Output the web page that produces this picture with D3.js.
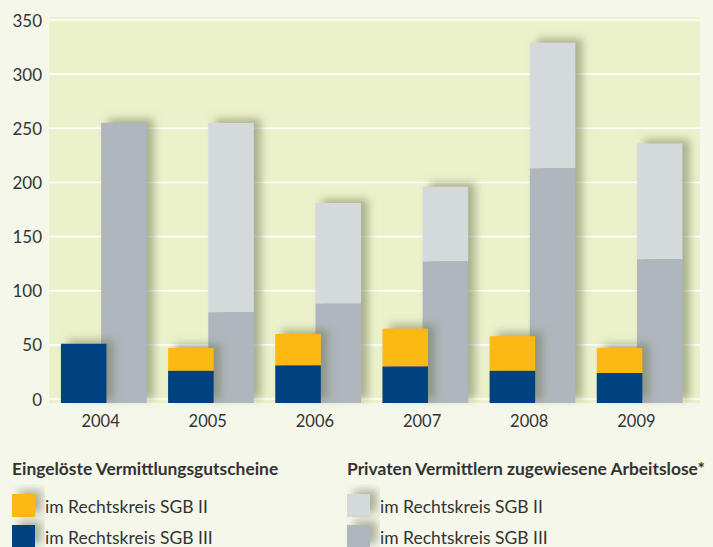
<!DOCTYPE html>
<html>
<head>
<meta charset="utf-8">
<script src="https://cdn.jsdelivr.net/npm/d3@7"></script>
<style>
  body { margin: 0; background: #f5f7ea; }
  svg { display: block; font-family: Lato, "Open Sans", sans-serif; }
</style>
</head>
<body>
<svg id="chart" width="713" height="547"></svg>
<script>
// data
var years = ["2004", "2005", "2006", "2007", "2008", "2009"];
var gutscheineSGB3 = [51, 26, 31, 30, 26, 24];
var gutscheineSGB2 = [0, 21, 29, 35, 32, 23];
var vermittlerSGB3 = [255, 80, 88, 127, 213, 129];
var vermittlerSGB2 = [0, 175, 93, 69, 116, 107];
var yTicks = [0, 50, 100, 150, 200, 250, 300, 350];

var colors = {
    yellow: "#fdb913",
    blue: "#00417f",
    light: "#d4d9dc",
    dark: "#afb6bd"
};

var svg = d3.select("#chart");

var plot = { left: 49, right: 700, top: 17, bottom: 403 };

var x = d3.scaleBand().domain(years).range([47, 690]);
var y = d3.scaleLinear().domain([0, 350]).range([399, 20]);

// soft blurred shadow up and to the right of each bar
var defs = svg.append("defs");
var f = defs.append("filter").attr("id", "shadow")
    .attr("x", "-40%").attr("y", "-40%").attr("width", "180%").attr("height", "180%");
f.append("feGaussianBlur").attr("in", "SourceAlpha").attr("stdDeviation", 4).attr("result", "b");
f.append("feOffset").attr("in", "b").attr("dx", 7).attr("dy", -4).attr("result", "o");
f.append("feFlood").attr("flood-color", "#737a58").attr("flood-opacity", 0.55);
f.append("feComposite").attr("in2", "o").attr("operator", "in");

svg.append("rect")
    .attr("x", plot.left).attr("y", plot.top)
    .attr("width", plot.right - plot.left).attr("height", plot.bottom - plot.top)
    .attr("fill", "#ebf1cb");

svg.append("g").selectAll("line").data(yTicks).enter().append("line")
    .attr("x1", plot.left).attr("x2", plot.right)
    .attr("y1", function (d) { return y(d); })
    .attr("y2", function (d) { return y(d); })
    .attr("stroke", "#ffffff").attr("stroke-width", 1.6);

var yAxis = svg.append("g")
    .attr("transform", "translate(42,0)")
    .call(d3.axisLeft(y).tickValues(yTicks).tickSize(0).tickPadding(0));
yAxis.select(".domain").remove();
yAxis.selectAll("text")
    .attr("font-family", "Lato, sans-serif")
    .attr("font-size", 17).attr("fill", "#333").attr("dy", "0.36em");

var xAxis = svg.append("g")
    .attr("transform", "translate(0,412)")
    .call(d3.axisBottom(x).tickSize(0).tickPadding(0));
xAxis.select(".domain").remove();
xAxis.selectAll("text")
    .attr("font-family", "Lato, sans-serif")
    .attr("font-size", 16.5).attr("fill", "#333").attr("dy", "0.9em");

var bw = x.bandwidth();
var barW = bw * 0.425;
var base = y(0) + 4;

function stack(a, b) {
    return years.map(function (yr, i) {
        return { year: yr, low: a[i], high: a[i] + b[i] };
    });
}

var gray = stack(vermittlerSGB3, vermittlerSGB2);
var gold = stack(gutscheineSGB3, gutscheineSGB2);

function drawGroup(data, offset, lowColor, highColor) {
    var g = svg.append("g");
    var grp = g.selectAll("g").data(data).enter().append("g");
    grp.append("rect")
        .attr("x", function (d) { return x(d.year) + bw * offset; })
        .attr("y", function (d) { return y(d.high); })
        .attr("width", barW)
        .attr("height", function (d) { return base - y(d.high); })
        .attr("fill", "#000")
        .attr("filter", "url(#shadow)");
    grp.append("rect")
        .attr("x", function (d) { return x(d.year) + bw * offset; })
        .attr("y", function (d) { return y(d.high); })
        .attr("width", barW)
        .attr("height", function (d) { return y(d.low) - y(d.high); })
        .attr("fill", highColor);
    grp.append("rect")
        .attr("x", function (d) { return x(d.year) + bw * offset; })
        .attr("y", function (d) { return y(d.low); })
        .attr("width", barW)
        .attr("height", function (d) { return base - y(d.low); })
        .attr("fill", lowColor);
}

drawGroup(gray, 0.505, colors.dark, colors.light);
drawGroup(gold, 0.13, colors.blue, colors.yellow);

// legend
var legends = [
    { x: 12, title: "Eingelöste Vermittlungsgutscheine", items: [[colors.yellow, "im Rechtskreis SGB II"], [colors.blue, "im Rechtskreis SGB III"]] },
    { x: 347, title: "Privaten Vermittlern zugewiesene Arbeitslose*", items: [[colors.light, "im Rechtskreis SGB II"], [colors.dark, "im Rechtskreis SGB III"]] }
];

legends.forEach(function (lg) {
    var g = svg.append("g").attr("transform", "translate(" + lg.x + ",0)");
    g.append("text").attr("x", 0).attr("y", 475)
        .attr("font-size", 17.4).attr("font-weight", "bold").attr("fill", "#333")
        .text(lg.title);
    lg.items.forEach(function (it, i) {
        var yy = 494 + i * 31;
        g.append("rect").attr("x", 0).attr("y", yy).attr("width", 23).attr("height", 23)
            .attr("fill", "#000").attr("filter", "url(#shadow)");
        g.append("rect").attr("x", 0).attr("y", yy).attr("width", 23).attr("height", 23)
            .attr("fill", it[0]);
        g.append("text").attr("x", 33).attr("y", yy + 19)
            .attr("font-size", 17.5).attr("fill", "#333").text(it[1]);
    });
});
</script>
</body>
</html>
